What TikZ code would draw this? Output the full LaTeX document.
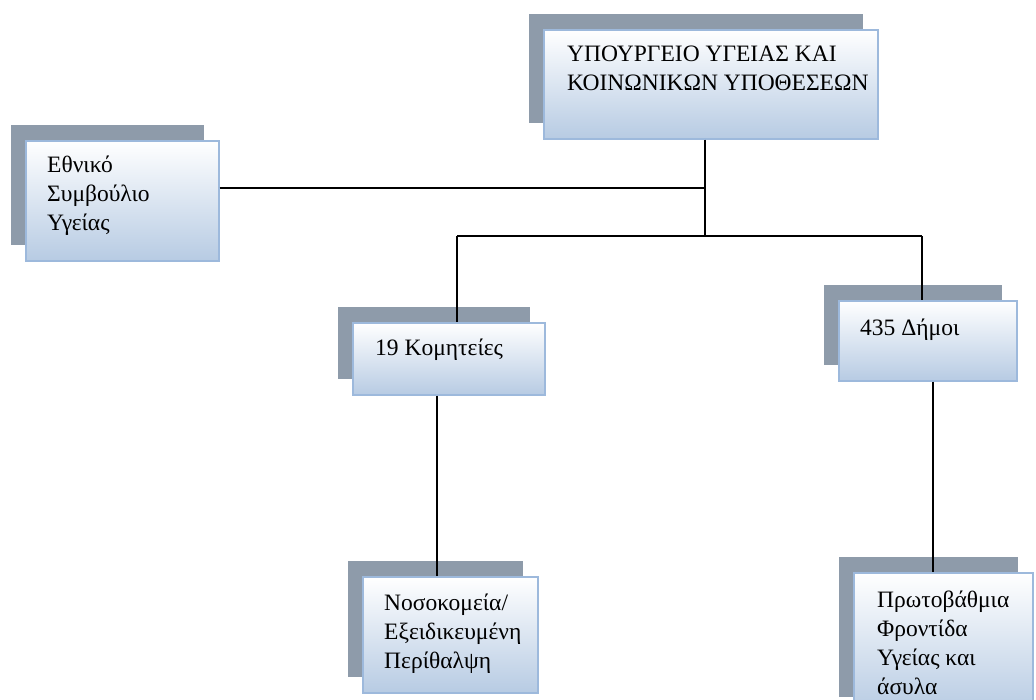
\documentclass[tikz,border=0pt]{standalone}
\usepackage{fontspec}
\setmainfont{Liberation Serif}
\usetikzlibrary{shadows}
\definecolor{shadowgray}{HTML}{8E9BAA}
\definecolor{boxedge}{HTML}{9DB9DC}
\definecolor{boxbottom}{HTML}{B7CBE3}
\tikzset{
  orgbox/.style={anchor=north west, inner sep=0pt, draw=boxedge, line width=1.6pt,
    top color=white, bottom color=boxbottom,
    general shadow={fill=shadowgray, draw=none, shadow xshift=-15pt, shadow yshift=16pt}},
  % labels are placed by the baseline of their last line
  lbl/.style={anchor=base west, align=left, inner sep=0pt,
    font=\fontsize{23.5}{29}\selectfont},
  link/.style={line width=1.7pt, black}
}
\begin{document}
\begin{tikzpicture}[x=1pt, y=-1pt]
\useasboundingbox (0,0) rectangle (1036,699);
\fill[white] (0,0) rectangle (1036,699);

% boxes
\node[orgbox, minimum width=334pt, minimum height=109pt] (top) at (543,29) {};
\node[orgbox, minimum width=193pt, minimum height=120pt] (eth) at (25,140) {};
\node[orgbox, minimum width=192pt, minimum height=72pt] (kom) at (352,322) {};
\node[orgbox, minimum width=178pt, minimum height=80pt] (dim) at (838,300) {};
\node[orgbox, minimum width=175pt, minimum height=116pt] (nos) at (362,576) {};
\node[orgbox, minimum width=179pt, minimum height=140pt] (pro) at (853,572) {};

% labels
\node[lbl] (topT) at (567,90) {ΥΠΟΥΡΓΕΙΟ ΥΓΕΙΑΣ ΚΑΙ\\ΚΟΙΝΩΝΙΚΩΝ ΥΠΟΘΕΣΕΩΝ};
\node[lbl] (ethT) at (47,230) {Εθνικό\\Συμβούλιο\\Υγείας};
\node[lbl] (komT) at (375,355) {19 Κομητείες};
\node[lbl] (dimT) at (860,335) {435 Δήμοι};
\node[lbl] (nosT) at (384,668) {Νοσοκομεία/\\Εξειδικευμένη\\Περίθαλψη};
\node[lbl] (proT) at (877,694) {Πρωτοβάθμια\\Φροντίδα\\Υγείας και\\άσυλα};

% junctions
\coordinate (hub) at (705,188);
\coordinate (bus) at (705,236);
\coordinate (busL) at (457,236);
\coordinate (busR) at (922,236);
\coordinate (kx) at (437,0);
\coordinate (dx) at (933,0);

% connectors
\draw[link] (hub |- top.south) -- (bus);
\draw[link] (eth.east |- hub) -- (hub);
\draw[link] (busL) -- (busR);
\draw[link] (busL) -- (busL |- kom.north);
\draw[link] (busR) -- (busR |- dim.north);
\draw[link] (kx |- kom.south) -- (kx |- nos.north);
\draw[link] (dx |- dim.south) -- (dx |- pro.north);
\end{tikzpicture}
\end{document}
